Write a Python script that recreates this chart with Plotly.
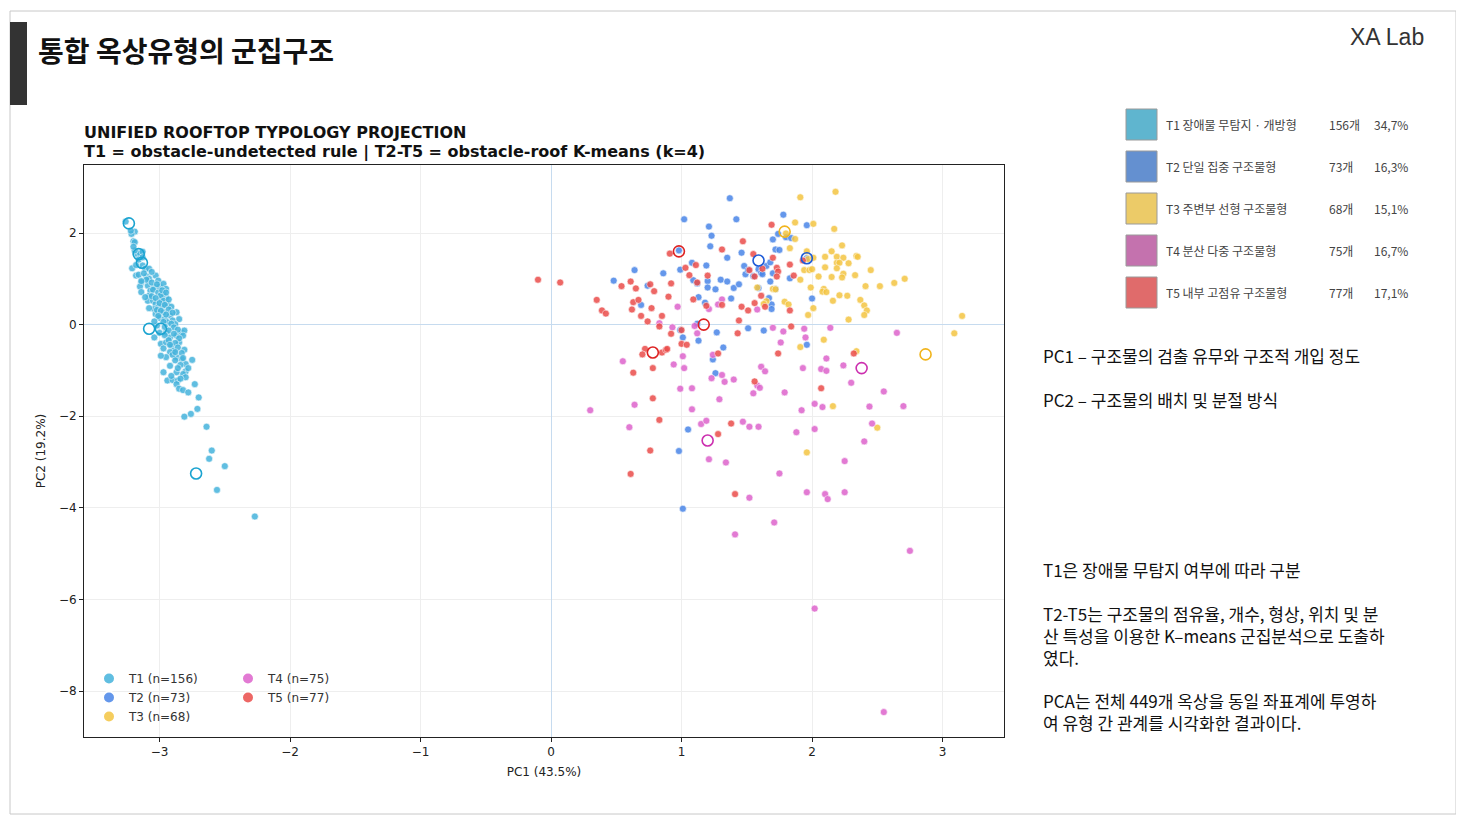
import plotly.graph_objects as go

# ---- data (PC1, PC2) ----
t1_x = [-3.26, -3.19, -3.215, -3.20, -3.19, -3.17, -3.15, -3.13, -3.13, -3.21, -3.18, -3.16,
        -3.11, -3.08, -3.14, -3.10, -3.08, -3.03, -3.01, -3.15, -3.14, -3.09, -3.07, -3.08,
        -3.04, -3.00, -2.97, -2.95, -3.09, -3.05, -3.03, -2.99, -2.95, -2.97, -3.04, -3.01,
        -2.98, -2.94, -2.91, -2.87, -2.85, -2.92, -2.97, -3.03, -3.00, -2.96, -2.90, -2.88,
        -3.04, -2.99, -2.95, -2.92, -2.95, -2.91, -2.87, -2.83, -2.81, -2.82, -2.85, -2.81,
        -2.89, -2.92, -2.95, -2.99, -2.87, -2.83, -2.80, -2.75, -2.80, -2.82, -2.87, -2.97,
        -2.94, -2.90, -2.86, -2.87, -2.85, -2.82, -2.78, -2.73, -2.70, -2.71, -2.81, -2.76,
        -2.64, -2.60, -2.62, -2.50, -2.56, -2.27,
        -3.12, -3.10, -3.06, -3.02, -3.05, -3.01, -2.99, -3.06, -3.03, -2.97, -2.93, -3.00,
        -2.96, -3.02, -2.99, -2.93, -2.90, -2.95, -3.01, -2.94, -2.91, -2.97, -3.02, -2.96,
        -2.89, -2.93, -2.86, -3.00, -2.96, -2.89, -2.85, -2.93, -2.88, -2.97, -2.86, -2.83,
        -2.90, -2.88, -2.84, -2.92, -2.86, -2.78, -3.08, -3.11, -3.14, -3.06, -3.18, -3.16,
        -3.13, -3.19, -3.20, -3.22, -2.98, -2.95, -3.04, -2.92, -2.80, -2.84, -2.91, -2.88,
        -2.82]
t1_y = [2.25, 2.03, 1.98, 1.82, 1.80, 1.54, 1.56, 1.59, 1.29, 1.23, 1.07, 1.09,
        1.22, 1.22, 0.92, 1.05, 1.00, 1.07, 0.96, 0.83, 0.71, 0.85, 0.74, 0.63,
        0.82, 0.83, 0.89, 0.78, 0.52, 0.52, 0.45, 0.56, 0.60, 0.67, 0.34, 0.38,
        0.41, 0.45, 0.39, 0.27, 0.12, 0.20, 0.27, 0.23, 0.15, 0.12, 0.09, 0.01,
        -0.28, -0.42, -0.17, -0.28, -0.39, -0.46, -0.24, -0.17, -0.13, -0.24, -0.39, -0.55,
        -0.57, -0.60, -0.71, -0.68, -0.71, -0.75, -0.86, -0.77, -1.02, -1.08, -1.04, -1.04,
        -1.22, -1.21, -1.22, -1.30, -1.40, -1.43, -1.48, -1.30, -1.59, -1.84, -2.01, -1.95,
        -2.23, -2.75, -2.93, -3.09, -3.61, -4.19,
        1.12, 0.98, 0.92, 0.88, 0.76, 0.70, 0.64, 0.62, 0.58, 0.52, 0.55, 0.47,
        0.43, 0.32, 0.30, 0.33, 0.26, 0.22, 0.19, 0.05, 0.02, 0.06, -0.02, -0.05,
        -0.06, -0.13, -0.11, -0.18, -0.23, -0.20, -0.30, -0.34, -0.40, -0.52, -0.50, -0.62,
        -0.66, -0.78, -0.88, -0.90, -0.95, -0.95, 0.36, 0.60, 0.95, 1.15, 1.30, 1.42,
        1.47, 1.62, 1.70, 2.05, 0.75, 0.70, 0.07, -0.44, -1.15, -1.18, -1.12, -0.60,
        -0.73]

t2_x = [1.37, 1.02, 1.42, 1.21, 1.23, 1.22, 1.35, 1.46, 0.64, 0.48, 0.86, 0.99,
        1.08, 1.19, 1.09, 1.12, 1.20, 1.20, 1.26, 1.30, 1.35, 1.40, 1.44, 1.48,
        1.49, 1.51, 1.55, 1.59, 1.61, 1.65, 0.74, 0.69, 1.13, 1.18, 1.38, 1.59,
        1.51, 1.63, 0.99, 1.01, 1.13, 1.12, 1.32, 1.24, 1.78, 1.96, 1.74, 1.80,
        1.84, 1.70, 1.72, 1.75, 1.68, 1.62, 1.70, 1.83, 1.68, 1.72, 1.67, 1.69,
        1.69, 2.00, 1.96, 1.26, 1.05, 0.98, 1.01, 0.98, 1.27, 1.96]
t2_y = [2.76, 2.30, 2.30, 2.14, 1.94, 1.71, 1.46, 1.57, 1.19, 0.96, 1.12, 1.20,
        1.35, 1.29, 0.97, 0.90, 0.95, 0.81, 0.77, 0.98, 0.94, 0.80, 0.88, 1.28,
        1.10, 1.19, 1.06, 1.21, 1.13, 1.28, 0.85, 0.43, 0.60, 0.48, 0.57, 0.80,
        -0.08, -0.13, -0.12, -0.28, -0.35, 0.02, -0.50, -0.76, 2.40, 2.17, 1.98, 1.91,
        1.89, 1.86, 1.64, 1.63, 1.36, 1.10, 1.12, 1.01, 0.94, 0.78, 0.58, 0.44,
        0.34, 0.57, -0.44, -1.06, -2.29, -2.76, -4.02, 1.62, -0.17, 1.45]

t3_x = [2.18, 1.91, 2.01, 1.87, 2.17, 1.83, 1.87, 2.23, 2.15, 1.96, 1.97, 2.01,
        2.10, 2.19, 2.24, 2.19, 2.21, 2.28, 2.34, 2.35, 1.94, 1.98, 2.00, 2.10,
        2.19, 2.24, 2.23, 2.15, 2.05, 2.33, 2.45, 1.91, 2.71, 2.63, 2.52, 2.41,
        1.99, 2.09, 2.08, 2.11, 2.21, 2.27, 2.16, 2.37, 2.40, 2.42, 2.40, 2.28,
        2.01, 1.97, 1.79, 1.82, 1.70, 1.72, 1.65, 3.15, 3.09, 1.91, 2.09, 2.34,
        2.16, 2.50, 1.96, 1.58, 1.63, 1.80]
t3_y = [2.90, 2.78, 2.20, 2.23, 2.09, 1.67, 1.87, 1.73, 1.60, 1.60, 1.43, 1.46,
        1.48, 1.48, 1.46, 1.35, 1.35, 1.34, 1.50, 1.48, 1.19, 1.19, 1.21, 1.25,
        1.23, 1.11, 1.03, 1.04, 1.05, 1.08, 1.19, 0.98, 1.00, 0.91, 0.84, 0.84,
        0.81, 0.78, 0.72, 0.71, 0.64, 0.63, 0.52, 0.54, 0.42, 0.31, 0.21, 0.11,
        0.36, 0.21, 0.50, 0.44, 0.78, 0.77, 0.51, 0.19, -0.19, -0.49, -0.33, -0.58,
        -1.78, -2.25, -2.79, 0.81, 0.45, 1.99]

t4_x = [0.97, 0.83, 0.93, 1.10, 1.12, 1.31, 1.28, 1.21, 1.58, 1.01, 1.24, 0.55,
        0.94, 1.02, 1.61, 1.70, 1.78, 1.76, 1.94, 1.95, 2.14, 2.65, 2.11, 2.24,
        1.93, 2.07, 1.31, 1.33, 1.23, 1.40, 0.99, 1.08, 1.29, 1.64, 1.55, 1.58,
        1.60, 0.30, 0.64, 1.08, 0.60, 1.15, 1.19, 1.47, 1.52, 1.59, 1.21, 1.34,
        1.52, 2.11, 2.30, 2.55, 1.79, 2.02, 2.08, 1.92, 2.44, 2.70, 2.46, 1.88,
        2.02, 2.40, 2.25, 1.75, 1.96, 2.10, 2.12, 2.25, 1.71, 1.41, 2.75, 2.02,
        2.55]
t4_y = [0.39, 0.03, -0.06, -0.03, -0.19, 0.55, 0.44, 0.34, 0.33, -0.69, -0.66, -0.80,
        -0.87, -0.95, -0.92, -0.07, -0.15, -0.39, -0.09, -0.28, -0.07, -0.18, -0.74, -0.89,
        -0.95, -0.97, -1.10, -1.25, -1.17, -1.20, -1.40, -1.39, -1.63, -1.02, -1.50, -1.33,
        -1.38, -1.87, -1.75, -1.85, -2.24, -2.17, -2.10, -2.12, -2.23, -2.23, -2.94, -3.01,
        -3.78, -1.01, -1.27, -1.46, -1.48, -1.73, -1.80, -1.87, -1.79, -1.78, -2.16, -2.35,
        -2.28, -2.55, -2.98, -3.25, -3.66, -3.70, -3.81, -3.66, -4.32, -4.58, -4.94, -6.20,
        -8.46]

t5_x = [-0.10, 0.07, 0.35, 0.39, 0.42, 0.54, 0.61, 0.65, 0.63, 0.67, 0.62, 0.69,
        0.74, 0.76, 0.79, 0.77, 0.85, 0.83, 0.90, 0.92, 0.91, 0.92, 1.00, 1.03,
        1.06, 1.11, 1.09, 1.12, 1.20, 1.19, 1.00, 1.04, 0.72, 0.70, 0.85, 0.88,
        0.89, 0.78, 1.31, 1.47, 1.55, 1.52, 1.56, 1.31, 1.46, 1.51, 1.56, 1.61,
        1.64, 1.44, 1.43, 1.28, 1.69, 1.70, 1.83, 1.73, 1.74, 1.73, 1.86, 1.93,
        1.83, 1.84, 1.74, 2.32, 0.63, 0.78, 0.83, 0.76, 0.61, 1.56, 1.38, 1.28,
        1.41, 2.07, 1.62]
t5_y = [0.98, 0.92, 0.54, 0.31, 0.24, 0.84, 0.94, 0.79, 0.49, 0.54, 0.33, 0.19,
        0.07, 0.88, 0.73, 0.36, 0.19, -0.04, 0.61, 0.90, 1.55, -0.20, -0.12, 1.24,
        1.08, 1.30, 0.55, 0.92, 1.07, 0.41, -0.42, -0.44, -0.53, -0.65, -0.61, -0.55,
        -0.53, -0.95, 1.64, 1.82, 1.54, 1.19, 1.05, 0.43, 0.39, 0.31, 0.47, 0.63,
        0.39, 0.09, -0.19, -0.63, 2.18, 1.46, 1.31, 1.24, 1.16, 1.05, 1.07, 1.40,
        0.31, -0.04, -0.63, -0.63, -1.05, -1.61, -2.08, -2.75, -3.26, -1.24, -2.16, -2.39,
        -3.70, -1.39, 1.22]

# highlighted (open-ring) samples per type
rep_x = [[-3.235, -3.16, -3.135, -3.08, -2.99, -2.72], [1.59, 1.96], [1.79, 2.87], [2.38, 1.20],
         [0.98, 1.17, 0.78]]
rep_y = [[2.21, 1.54, 1.35, -0.09, -0.09, -3.25], [1.40, 1.45], [2.03, -0.65], [-0.95, -2.53],
         [1.60, 0.00, -0.61]]

type_codes = ["T1", "T2", "T3", "T4", "T5"]
type_counts = [156, 73, 68, 75, 77]
type_names = ["T1 장애물 무탐지 · 개방형", "T2 단일 집중 구조물형", "T3 주변부 선형 구조물형",
              "T4 분산 다중 구조물형", "T5 내부 고점유 구조물형"]
type_pcts = ["34,7%", "16,3%", "15,1%", "16,7%", "17,1%"]

point_colors = ["#45B3DC", "#4A86E8", "#F4C542", "#DD63CC", "#EB4D4B"]
ring_colors = ["#1AA3D0", "#1E5BD8", "#F1B41C", "#CC2FAF", "#DD2222"]
swatch_colors = ["#5FB5CF", "#6490D0", "#ECCB68", "#C472AE", "#E06B6B"]

xs = [t1_x, t2_x, t3_x, t4_x, t5_x]
ys = [t1_y, t2_y, t3_y, t4_y, t5_y]

# ---- page geometry (figure is drawn inside the 8px body margin) ----
W, H = 1448, 807
PL, PR, PT, PB = 76, 996, 157, 729


def px(sx):
    return (sx - 8 - PL) / (PR - PL)


def py(sy):
    return (PB - (sy - 8)) / (PB - PT)


fig = go.Figure()

for i in range(5):
    fig.add_trace(go.Scatter(
        x=xs[i], y=ys[i], mode="markers",
        name="%s (n=%d)" % (type_codes[i], type_counts[i]),
        legend="legend" if i < 3 else "legend2",
        marker=dict(size=7, color=point_colors[i], opacity=0.85,
                    line=dict(color="white", width=0.6)),
    ))

for i in range(5):
    fig.add_trace(go.Scatter(
        x=rep_x[i], y=rep_y[i], mode="markers", showlegend=False,
        marker=dict(size=11, symbol="circle-open", color=ring_colors[i],
                    line=dict(width=1.6)),
    ))

axis_font = dict(family="DejaVu Sans", size=12, color="#222")
fig.update_xaxes(range=[-3.579, 3.471], dtick=1, tick0=0,
                 showgrid=True, gridcolor="#eeeeee", gridwidth=1,
                 zeroline=True, zerolinecolor="#c6dbef", zerolinewidth=1,
                 showline=True, linecolor="#222", linewidth=1, mirror=True,
                 ticks="outside", ticklen=4, tickcolor="#222", tickfont=axis_font,
                 title=dict(text="PC1 (43.5%)", font=axis_font, standoff=9))
fig.update_yaxes(range=[-9.004, 3.485], dtick=2, tick0=0,
                 showgrid=True, gridcolor="#eeeeee", gridwidth=1,
                 zeroline=True, zerolinecolor="#c6dbef", zerolinewidth=1,
                 showline=True, linecolor="#222", linewidth=1, mirror=True,
                 ticks="outside", ticklen=4, tickcolor="#222", tickfont=axis_font,
                 title=dict(text="PC2 (19.2%)", font=axis_font, standoff=10))

shapes = [
    # slide frame
    dict(type="rect", xref="paper", yref="paper", x0=px(10), x1=px(1456), y0=py(814), y1=py(11),
         line=dict(color="#c8c8c8", width=1), fillcolor="rgba(0,0,0,0)", layer="below"),
    # dark accent bar
    dict(type="rect", xref="paper", yref="paper", x0=px(10), x1=px(27), y0=py(105), y1=py(22),
         line=dict(width=0), fillcolor="#333333"),
]

ann = [
    dict(text="<b>통합 옥상유형의 군집구조</b>", x=px(36), y=py(50), xanchor="left", yanchor="middle",
         font=dict(family="Noto Sans CJK KR", size=28, color="#111")),
    dict(text="XA Lab", x=px(1426), y=py(37), xanchor="right", yanchor="middle",
         font=dict(family="Liberation Sans", size=23, color="#333")),
    dict(text="<b>UNIFIED ROOFTOP TYPOLOGY PROJECTION</b>", x=px(82), y=py(133),
         xanchor="left", yanchor="middle", font=dict(family="DejaVu Sans", size=16, color="#111")),
    dict(text="<b>T1 = obstacle-undetected rule | T2-T5 = obstacle-roof K-means (k=4)</b>", x=px(82),
         y=py(152), xanchor="left", yanchor="middle",
         font=dict(family="DejaVu Sans", size=16, color="#111")),
]

# side legend with counts and shares
side_font = dict(family="Noto Sans CJK KR", size=12, color="#444")
for i in range(5):
    top = 109 + 42 * i
    shapes.append(dict(type="rect", xref="paper", yref="paper", x0=px(1126), x1=px(1157),
                       y0=py(top + 31), y1=py(top), fillcolor=swatch_colors[i],
                       line=dict(color="#9a9a9a", width=1)))
    ann.append(dict(text=type_names[i], x=px(1164), y=py(top + 15), xanchor="left",
                    yanchor="middle", font=side_font))
    ann.append(dict(text="%d개" % type_counts[i], x=px(1327), y=py(top + 15), xanchor="left",
                    yanchor="middle", font=side_font))
    ann.append(dict(text=type_pcts[i], x=px(1372), y=py(top + 15), xanchor="left",
                    yanchor="middle", font=side_font))

# explanatory notes (one annotation per paragraph, first-line centre y)
notes = [
    ("PC1 – 구조물의 검출 유무와 구조적 개입 정도", 356),
    ("PC2 – 구조물의 배치 및 분절 방식", 400),
    ("T1은 장애물 무탐지 여부에 따라 구분", 570),
    ("T2-T5는 구조물의 점유율, 개수, 형상, 위치 및 분<br>산 특성을 이용한 K–means 군집분석으로 도출하<br>였다.", 614),
    ("PCA는 전체 449개 옥상을 동일 좌표계에 투영하<br>여 유형 간 관계를 시각화한 결과이다.", 701),
]
for txt, sy in notes:
    ann.append(dict(text=txt, x=px(1041), y=py(sy - 15), xanchor="left", yanchor="top",
                    align="left", font=dict(family="Noto Sans CJK KR", size=17, color="#111")))

for a in ann:
    a.update(xref="paper", yref="paper", showarrow=False)

legend_style = dict(font=dict(family="DejaVu Sans", size=12, color="#333"),
                    bgcolor="rgba(255,255,255,0)", xanchor="left", yanchor="top",
                    tracegroupgap=0, itemsizing="constant")
fig.update_layout(
    width=W, height=H,
    margin=dict(l=PL, r=W - PR, t=PT, b=H - PB),
    paper_bgcolor="white", plot_bgcolor="white",
    shapes=shapes, annotations=ann,
    showlegend=True,
    legend=dict(x=px(89), y=py(664), **legend_style),
    legend2=dict(x=px(228), y=py(664), **legend_style),
)

fig.write_html("out.html")
